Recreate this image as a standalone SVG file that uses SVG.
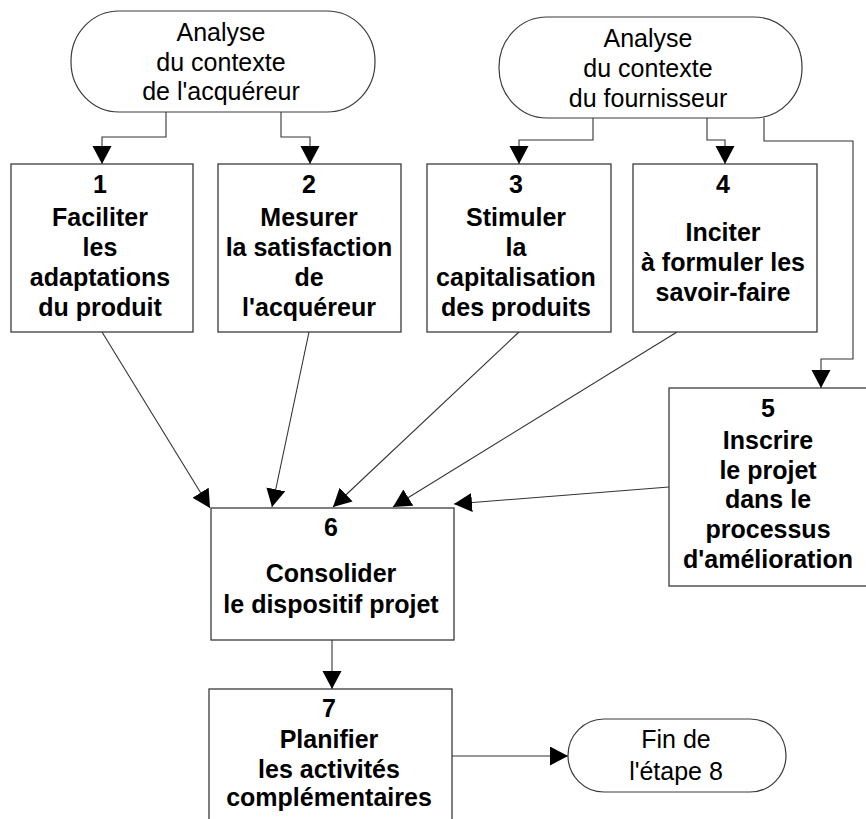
<svg xmlns="http://www.w3.org/2000/svg" width="866" height="819" viewBox="0 0 866 819">
  <style>
    .box { fill: #ffffff; stroke: #3a3a3a; stroke-width: 1.3; }
    .term { fill: #ffffff; stroke: #3a3a3a; stroke-width: 1.2; }
    .lbl { font-family: "Liberation Sans", Arial, sans-serif; font-size: 25px; fill: #000; text-anchor: middle; }
    .b { font-weight: bold; }
    .conn { fill: none; stroke: #333333; stroke-width: 1.1; marker-end: url(#ah); }
  </style>
  <defs>
    <marker id="ah" markerUnits="userSpaceOnUse" markerWidth="19" markerHeight="20" refX="18" refY="9.5" orient="auto">
      <path d="M0,0 L18,9.5 L0,19 z" fill="#000"/>
    </marker>
  </defs>
  <rect width="866" height="819" fill="#ffffff"/>

  <g id="connectors">
    <path class="conn" d="M166,112 V137 H102 V164"/>
    <path class="conn" d="M281,112 V137 H310 V164"/>
    <path class="conn" d="M593,118 V140 H519 V164"/>
    <path class="conn" d="M707,118 V140 H725 V164"/>
    <path class="conn" d="M764,118 V141 H853 V359 H821 V388"/>
    <path class="conn" d="M102,332 L210,508"/>
    <path class="conn" d="M309,332 L272,507"/>
    <path class="conn" d="M519,332 L333,507"/>
    <path class="conn" d="M677,332 L393,507"/>
    <path class="conn" d="M669,487 L454,504"/>
    <path class="conn" d="M332,640 V689"/>
    <path class="conn" d="M452,756 H568"/>
  </g>

  <g id="start-acquereur">
    <rect class="term" x="71" y="11" width="304" height="101" rx="48" ry="50"/>
    <text class="lbl" x="221" y="41">Analyse</text>
    <text class="lbl" x="221" y="71">du contexte</text>
    <text class="lbl" x="221" y="100">de l'acquéreur</text>
  </g>

  <g id="start-fournisseur">
    <rect class="term" x="499" y="17" width="303" height="101" rx="48" ry="50"/>
    <text class="lbl" x="648" y="47">Analyse</text>
    <text class="lbl" x="648" y="77">du contexte</text>
    <text class="lbl" x="648" y="107">du fournisseur</text>
  </g>

  <g id="step1">
    <rect class="box" x="11" y="164" width="182" height="168"/>
    <text class="lbl b" x="100" y="193">1</text>
    <text class="lbl b" x="100" y="226">Faciliter</text>
    <text class="lbl b" x="100" y="256">les</text>
    <text class="lbl b" x="100" y="286">adaptations</text>
    <text class="lbl b" x="100" y="316">du produit</text>
  </g>

  <g id="step2">
    <rect class="box" x="218" y="164" width="183" height="168"/>
    <text class="lbl b" x="309" y="193">2</text>
    <text class="lbl b" x="309" y="226">Mesurer</text>
    <text class="lbl b" x="309" y="256">la satisfaction</text>
    <text class="lbl b" x="309" y="286">de</text>
    <text class="lbl b" x="309" y="316">l'acquéreur</text>
  </g>

  <g id="step3">
    <rect class="box" x="427" y="164" width="184" height="168"/>
    <text class="lbl b" x="516" y="193">3</text>
    <text class="lbl b" x="516" y="226">Stimuler</text>
    <text class="lbl b" x="516" y="256">la</text>
    <text class="lbl b" x="516" y="286">capitalisation</text>
    <text class="lbl b" x="516" y="316">des produits</text>
  </g>

  <g id="step4">
    <rect class="box" x="633" y="164" width="184" height="168"/>
    <text class="lbl b" x="723" y="193">4</text>
    <text class="lbl b" x="723" y="241">Inciter</text>
    <text class="lbl b" x="723" y="271">à formuler les</text>
    <text class="lbl b" x="723" y="301">savoir-faire</text>
  </g>

  <g id="step5">
    <rect class="box" x="669" y="388" width="210" height="198"/>
    <text class="lbl b" x="768" y="417">5</text>
    <text class="lbl b" x="768" y="449">Inscrire</text>
    <text class="lbl b" x="768" y="479">le projet</text>
    <text class="lbl b" x="768" y="508">dans le</text>
    <text class="lbl b" x="768" y="538">processus</text>
    <text class="lbl b" x="768" y="568">d'amélioration</text>
  </g>

  <g id="step6">
    <rect class="box" x="211" y="508" width="243" height="132"/>
    <text class="lbl b" x="331" y="536">6</text>
    <text class="lbl b" x="331" y="582">Consolider</text>
    <text class="lbl b" x="331" y="613">le dispositif projet</text>
  </g>

  <g id="step7">
    <rect class="box" x="209" y="689" width="243" height="150"/>
    <text class="lbl b" x="329" y="717">7</text>
    <text class="lbl b" x="329" y="748">Planifier</text>
    <text class="lbl b" x="329" y="778">les activités</text>
    <text class="lbl b" x="329" y="806">complémentaires</text>
  </g>

  <g id="end-step8">
    <rect class="term" x="568" y="719" width="218" height="73" rx="36" ry="36.5"/>
    <text class="lbl" x="676" y="748">Fin de</text>
    <text class="lbl" x="676" y="780">l'étape 8</text>
  </g>
</svg>
